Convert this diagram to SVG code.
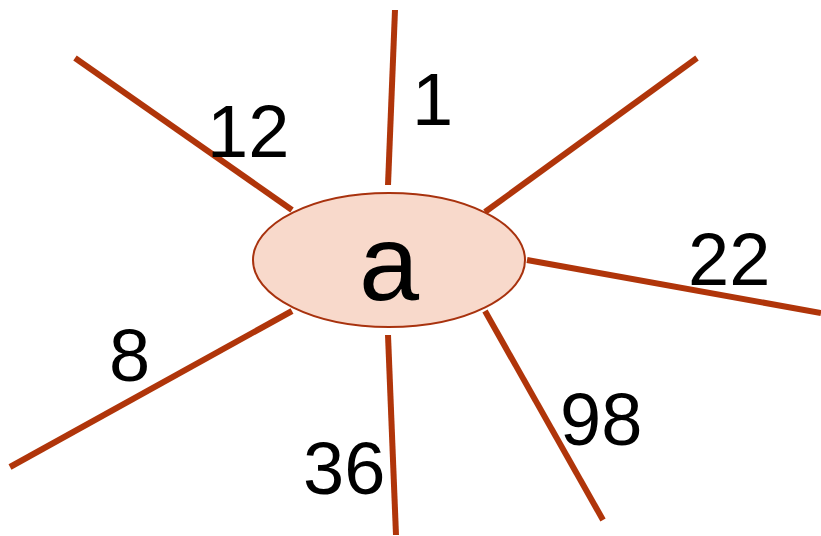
<svg xmlns="http://www.w3.org/2000/svg" width="821" height="536" viewBox="0 0 821 536">
<style>
.e{stroke:#b0350a;stroke-width:6;fill:none}
.l{font-family:"Liberation Sans",Arial,sans-serif;font-size:74px;fill:#000}
</style>
<rect width="821" height="536" fill="#fff"/>
<g id="connectors">
<line class="e" x1="395" y1="10" x2="388" y2="185"/>
<line class="e" x1="75" y1="58" x2="292" y2="210"/>
<line class="e" x1="697" y1="58" x2="485" y2="212"/>
<line class="e" x1="527" y1="260" x2="821" y2="313"/>
<line class="e" x1="10" y1="467" x2="292" y2="311"/>
<line class="e" x1="388" y1="335" x2="396" y2="535"/>
<line class="e" x1="485" y1="311" x2="603" y2="520"/>
</g>
<g id="labels">
<text class="l" x="412" y="125">1</text>
<text class="l" x="207" y="157">12</text>
<text class="l" x="688" y="285">22</text>
<text class="l" x="109" y="381">8</text>
<text class="l" x="303" y="494">36</text>
<text class="l" x="560" y="445">98</text>
</g>
<g id="node-a">
<ellipse cx="389" cy="260" rx="136" ry="67" fill="#f8d9cb" stroke="#a8320e" stroke-width="2"/>
<text x="389" y="300" text-anchor="middle" font-family="'Liberation Sans',Arial,sans-serif" font-size="108" fill="#000">a</text>
</g>
</svg>
